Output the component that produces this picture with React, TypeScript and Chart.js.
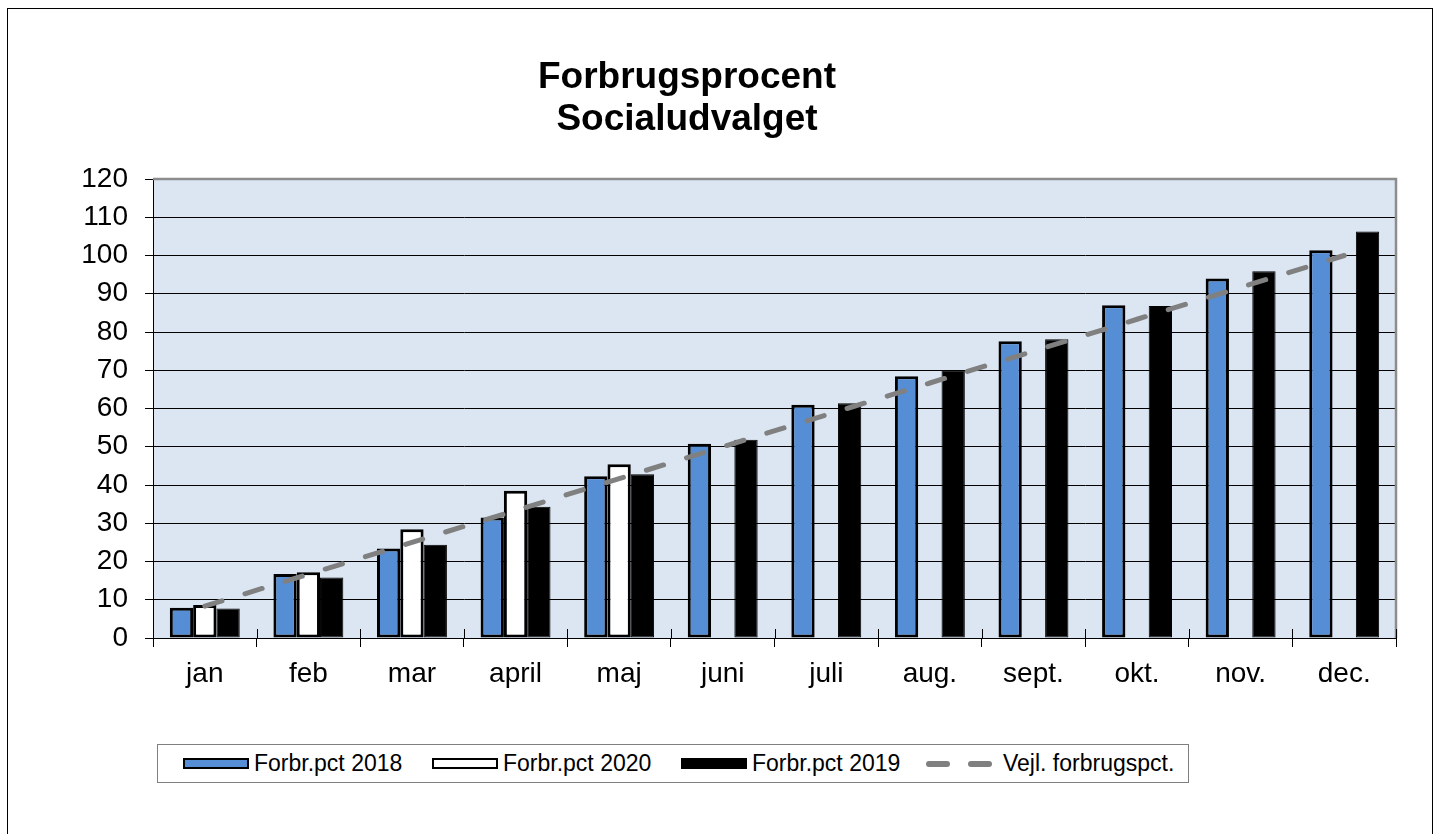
import React, { useEffect, useRef } from "react";
import { Chart, registerables } from "chart.js";

Chart.register(...registerables);

const MONTHS = ["jan", "feb", "mar", "april", "maj", "juni", "juli", "aug.", "sept.", "okt.", "nov.", "dec."];
const PCT_2018 = [7.9, 16.7, 23.4, 31.5, 42.3, 50.8, 61.0, 68.4, 77.6, 87.0, 94.0, 101.4];
const PCT_2020 = [8.6, 17.2, 28.4, 38.5, 45.4, null, null, null, null, null, null, null];
const PCT_2019 = [7.7, 15.8, 24.4, 34.3, 42.8, 51.8, 61.4, 70.0, 78.1, 86.8, 95.9, 106.3];
const GUIDE = [8.33, 16.67, 25, 33.33, 41.67, 50, 58.33, 66.67, 75, 83.33, 91.67, 100];
const TITLE_LINES = ["Forbrugsprocent", "Socialudvalget"];
const Y_MIN = 0;
const Y_MAX = 120;
const Y_STEP = 10;

const LABEL_2018 = "Forbr.pct 2018";
const LABEL_2020 = "Forbr.pct 2020";
const LABEL_2019 = "Forbr.pct 2019";
const LABEL_GUIDE = "Vejl. forbrugspct.";

const FONT = '"Liberation Sans", Arial, Helvetica, sans-serif';
const BLUE = "#558ED5";
const PLOT_BG = "#DCE6F2";
const GUIDE_COLOR = "#808080";

const bgPlugin = {
  id: "plotBg",
  beforeDraw(chart: any) {
    const { ctx, chartArea } = chart;
    ctx.save();
    ctx.fillStyle = PLOT_BG;
    ctx.fillRect(chartArea.left, chartArea.top, chartArea.right - chartArea.left, chartArea.bottom - chartArea.top);
    ctx.restore();
  },
  beforeDatasetsDraw(chart: any) {
    const { ctx, chartArea } = chart;
    ctx.save();
    ctx.strokeStyle = "#8c8c8c";
    ctx.lineWidth = 2.5;
    ctx.beginPath();
    ctx.moveTo(chartArea.left, chartArea.top);
    ctx.lineTo(chartArea.right, chartArea.top);
    ctx.lineTo(chartArea.right, chartArea.bottom);
    ctx.stroke();
    // upper half of the crossing category tick marks
    const xs = chart.scales.x;
    ctx.strokeStyle = "#000";
    ctx.lineWidth = 1;
    for (let i = 0; i <= MONTHS.length; i++) {
      const px = Math.round(xs.getPixelForValue(i - 0.5)) + 0.5;
      ctx.beginPath();
      ctx.moveTo(px, chartArea.bottom);
      ctx.lineTo(px, chartArea.bottom - 9);
      ctx.stroke();
    }
    ctx.restore();
  },
};

const titlePlugin = {
  id: "titleText",
  afterDraw(chart: any) {
    const { ctx } = chart;
    ctx.save();
    ctx.font = `bold 37px ${FONT}`;
    ctx.fillStyle = "#000";
    ctx.textAlign = "center";
    ctx.textBaseline = "alphabetic";
    TITLE_LINES.forEach((t, i) => ctx.fillText(t, 679, 79 + i * 42));
    ctx.restore();
  },
};

function ChartCanvas() {
  const ref = useRef<HTMLCanvasElement | null>(null);
  useEffect(() => {
    if (!ref.current) return;
    Chart.defaults.color = "#000";
    const chart = new Chart(ref.current, {
      type: "bar",
      data: {
        labels: MONTHS,
        datasets: [
          {
            type: "bar",
            label: LABEL_2018,
            data: PCT_2018,
            backgroundColor: BLUE,
            borderColor: "#000",
            borderWidth: 3,
            borderSkipped: false,
            order: 1,
          },
          {
            type: "bar",
            label: LABEL_2020,
            data: PCT_2020 as any,
            backgroundColor: "#fff",
            borderColor: "#000",
            borderWidth: 3,
            borderSkipped: false,
            order: 1,
          },
          {
            type: "bar",
            label: LABEL_2019,
            data: PCT_2019,
            backgroundColor: "#000",
            borderColor: "#000",
            borderWidth: 1,
            borderSkipped: false,
            order: 1,
          },
          {
            type: "line",
            label: LABEL_GUIDE,
            data: GUIDE,
            borderColor: GUIDE_COLOR,
            borderWidth: 5,
            borderDash: [18, 24],
            borderCapStyle: "round",
            pointRadius: 0,
            tension: 0,
            fill: false,
            order: 0,
          } as any,
        ],
      },
      options: {
        animation: false,
        responsive: false,
        maintainAspectRatio: false,
        events: [],
        layout: { padding: { top: 170, right: 36, bottom: 31, left: 0 } },
        datasets: {
          bar: { categoryPercentage: 0.675, barPercentage: 1 },
        },
        plugins: {
          legend: { display: false },
          title: { display: false },
          tooltip: { enabled: false },
        },
        scales: {
          x: {
            offset: true,
            grid: {
              offset: true,
              drawOnChartArea: false,
              drawTicks: true,
              tickLength: 9,
              color: "#000",
              lineWidth: 1,
            },
            border: { color: "#000", width: 1 },
            ticks: {
              font: { family: FONT, size: 28 },
              color: "#000",
              padding: 10,
              maxRotation: 0,
              autoSkip: false,
            },
            afterFit: (s: any) => {
              s.height = 60;
            },
          },
          y: {
            min: Y_MIN,
            max: Y_MAX,
            ticks: {
              stepSize: Y_STEP,
              font: { family: FONT, size: 28 },
              color: "#000",
              padding: 17,
            },
            grid: {
              color: "#000",
              lineWidth: 1,
              tickLength: 8,
              drawTicks: true,
            },
            border: { color: "#000", width: 1 },
            afterFit: (s: any) => {
              s.width = 145;
            },
          },
        },
      },
      plugins: [bgPlugin, titlePlugin],
    });
    return () => chart.destroy();
  }, []);
  return (
    <canvas
      ref={ref}
      width={1424}
      height={720}
      style={{ position: "absolute", left: 0, top: 0, width: 1424, height: 720 }}
    />
  );
}

function Swatch({ fill }: { fill: string }) {
  return (
    <div
      style={{
        width: 66,
        height: 11,
        boxSizing: "border-box",
        border: "2px solid #000",
        background: fill,
        flex: "0 0 auto",
      }}
    />
  );
}

function DashSymbol() {
  const dash: React.CSSProperties = {
    position: "absolute",
    top: 0,
    width: 24,
    height: 6,
    borderRadius: 3,
    background: GUIDE_COLOR,
  };
  return (
    <div style={{ position: "relative", width: 66, height: 6, flex: "0 0 auto" }}>
      <div style={{ ...dash, left: 0 }} />
      <div style={{ ...dash, left: 42 }} />
    </div>
  );
}

function LegendItem({ left, symbol, text, gap }: { left: number; symbol: React.ReactNode; text: string; gap: number }) {
  return (
    <div
      style={{
        position: "absolute",
        left,
        top: 0,
        height: "100%",
        display: "flex",
        alignItems: "center",
        whiteSpace: "nowrap",
      }}
    >
      {symbol}
      <span style={{ marginLeft: gap, fontFamily: FONT, fontSize: 23, color: "#000", lineHeight: 1 }}>{text}</span>
    </div>
  );
}

export default function App() {
  return (
    <div
      style={{
        position: "fixed",
        left: 7,
        top: 8,
        width: 1426,
        height: 900,
        border: "1px solid #000",
        boxSizing: "border-box",
        background: "#fff",
      }}
    >
      <ChartCanvas />
      <div
        style={{
          position: "absolute",
          left: 149,
          top: 735,
          width: 1032,
          height: 39,
          boxSizing: "border-box",
          border: "1px solid #808080",
          background: "#fff",
        }}
      >
        <LegendItem left={25} symbol={<Swatch fill={BLUE} />} text={LABEL_2018} gap={5} />
        <LegendItem left={274} symbol={<Swatch fill="#fff" />} text={LABEL_2020} gap={5} />
        <LegendItem left={523} symbol={<Swatch fill="#000" />} text={LABEL_2019} gap={5} />
        <LegendItem left={768} symbol={<DashSymbol />} text={LABEL_GUIDE} gap={11} />
      </div>
    </div>
  );
}
